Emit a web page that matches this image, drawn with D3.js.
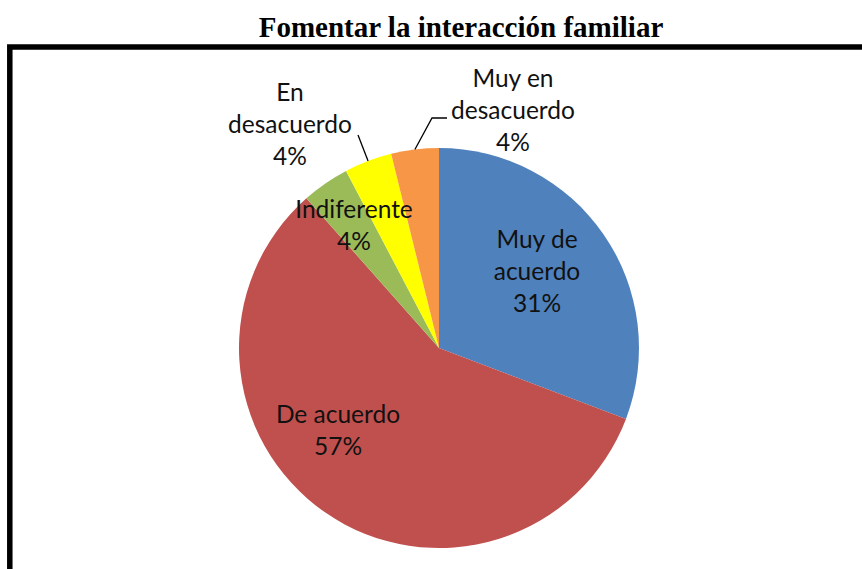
<!DOCTYPE html>
<html>
<head>
<meta charset="utf-8">
<script src="https://cdn.jsdelivr.net/npm/d3@7"></script>
<style>
  html, body { margin: 0; padding: 0; background: #fff; }
  svg { display: block; }
</style>
</head>
<body>
<svg id="chart" width="862" height="569"></svg>
<script>
// ---- data ----
const title = "Fomentar la interacción familiar";
const categories = ["Muy de acuerdo", "De acuerdo", "Indiferente", "En desacuerdo", "Muy en desacuerdo"];
const values = [8, 15, 1, 1, 1];
const percentLabels = ["31%", "57%", "4%", "4%", "4%"];
const colors = ["#4F81BD", "#C0504D", "#9BBB59", "#FFFF00", "#F79646"];
// label line breaks (text only)
const labelLines = [["Muy de", "acuerdo"], ["De acuerdo"], ["Indiferente"], ["En", "desacuerdo"], ["Muy en", "desacuerdo"]];

// ---- layout ----
const W = 862, H = 569;
const cx = 439, cy = 348, R = 200;
const lineH = 32;
// label anchor offsets relative to pie centre (first baseline)
const labelOffsets = [[98, -100], [-101, 75], [-85, -130], [-149, -247], [74, -261]];
// leader lines: start point offsets relative to pie centre (null = none), optional elbow
const leaders = [null, null, null, {start: [-81, -213]}, {start: [8, -230], elbow: [-7, -230]}];

const svg = d3.select("#chart");

svg.append("text")
  .attr("x", 461).attr("y", 37)
  .attr("text-anchor", "middle")
  .attr("font-family", "'Liberation Serif', 'Times New Roman', serif")
  .attr("font-weight", "bold")
  .attr("font-size", 29)
  .attr("fill", "#000")
  .text(title);

// frame
svg.append("rect")
  .attr("x", 9.8).attr("y", 47)
  .attr("width", W + 20).attr("height", H + 20)
  .attr("fill", "none")
  .attr("stroke", "#000")
  .attr("stroke-width", 5.5);

const pie = d3.pie().sort(null).value(d => d)(values);
const arc = d3.arc().innerRadius(0).outerRadius(R);

const g = svg.append("g").attr("transform", `translate(${cx},${cy})`);

g.selectAll("path.slice")
  .data(pie)
  .join("path")
  .attr("class", "slice")
  .attr("d", arc)
  .attr("fill", (d, i) => colors[i]);

// leader lines
pie.forEach((d, i) => {
  const L = leaders[i];
  if (!L) return;
  const mid = (d.startAngle + d.endAngle) / 2;
  const ex = R * Math.sin(mid), ey = -R * Math.cos(mid);
  const pts = [L.start];
  if (L.elbow) pts.push(L.elbow);
  pts.push([ex, ey]);
  g.append("path")
    .attr("d", d3.line()(pts))
    .attr("fill", "none")
    .attr("stroke", "#000")
    .attr("stroke-width", 1.3);
});

// labels
pie.forEach((d, i) => {
  const lines = labelLines[i].concat([percentLabels[i]]);
  const t = g.append("text")
    .attr("text-anchor", "middle")
    .attr("font-family", "Lato, 'Open Sans', sans-serif")
    .attr("font-size", 24.5)
    .attr("fill", "#111");
  lines.forEach((s, k) => {
    t.append("tspan")
      .attr("x", labelOffsets[i][0])
      .attr("y", labelOffsets[i][1] + k * lineH)
      .text(s);
  });
});
</script>
</body>
</html>
